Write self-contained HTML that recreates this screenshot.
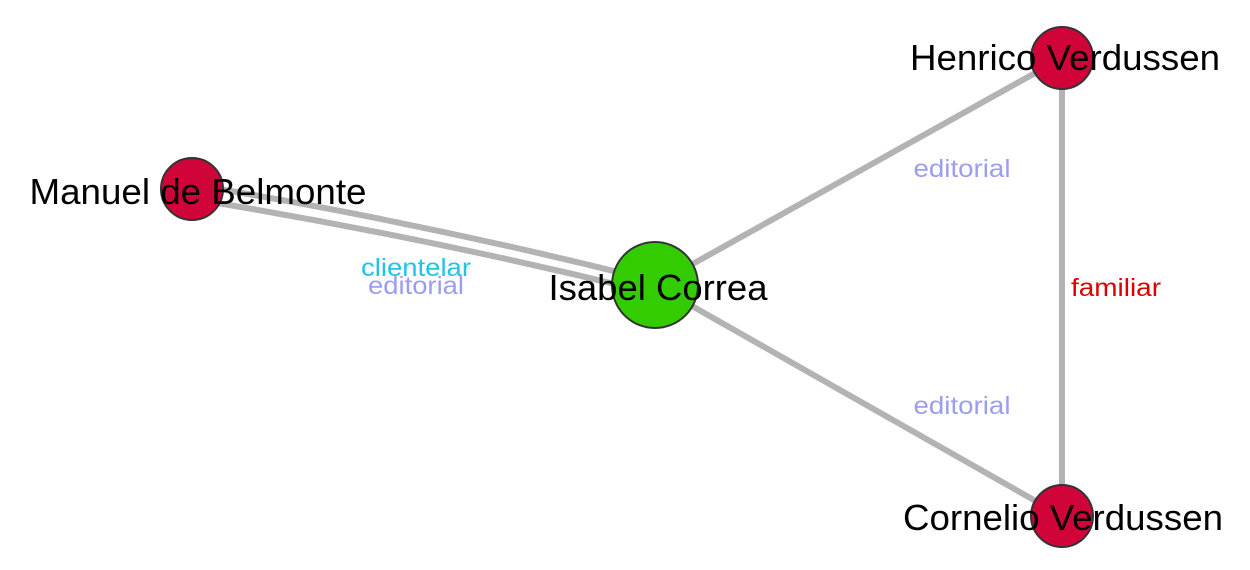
<!DOCTYPE html>
<html><head><style>html,body{margin:0;padding:0;background:#fff;}</style></head>
<body>
<svg width="1250" height="570" xmlns="http://www.w3.org/2000/svg" style="display:block;font-family:'Liberation Sans',Arial,sans-serif">
<g stroke="#b3b3b3" stroke-width="6" fill="none" stroke-linecap="round">
<path d="M195,185 Q420,222 650,280"/>
<path d="M193,199 Q420,236 648,292"/>
<line x1="655" y1="285" x2="1062" y2="58"/>
<line x1="655" y1="285" x2="1062" y2="516"/>
<line x1="1062" y1="58" x2="1062" y2="516"/>
</g>
<g font-size="25" text-anchor="middle">
<text x="416" y="276" fill="#22c4e6" textLength="110" lengthAdjust="spacingAndGlyphs">clientelar</text>
<text x="416" y="294" fill="#9d9df0" textLength="96" lengthAdjust="spacingAndGlyphs">editorial</text>
<text x="962" y="177" fill="#9d9df0" textLength="97" lengthAdjust="spacingAndGlyphs">editorial</text>
<text x="962" y="414" fill="#9d9df0" textLength="97" lengthAdjust="spacingAndGlyphs">editorial</text>
<text x="1116" y="296" fill="#dd0000" textLength="90" lengthAdjust="spacingAndGlyphs">familiar</text>
</g>
<g stroke="#333" stroke-width="2">
<circle cx="1062" cy="58" r="31" fill="#d1043a"/>
<circle cx="192" cy="189" r="31" fill="#d1043a"/>
<circle cx="1062" cy="516" r="31" fill="#d1043a"/>
<circle cx="655" cy="285" r="43" fill="#33cc00"/>
</g>
<g font-size="36" text-anchor="middle" fill="#000">
<text x="1065" y="70" textLength="310" lengthAdjust="spacingAndGlyphs">Henrico Verdussen</text>
<text x="198" y="204" textLength="337" lengthAdjust="spacingAndGlyphs">Manuel de Belmonte</text>
<text x="658" y="300" textLength="219" lengthAdjust="spacingAndGlyphs">Isabel Correa</text>
<text x="1063" y="530" textLength="320" lengthAdjust="spacingAndGlyphs">Cornelio Verdussen</text>
</g>
</svg>
</body></html>
